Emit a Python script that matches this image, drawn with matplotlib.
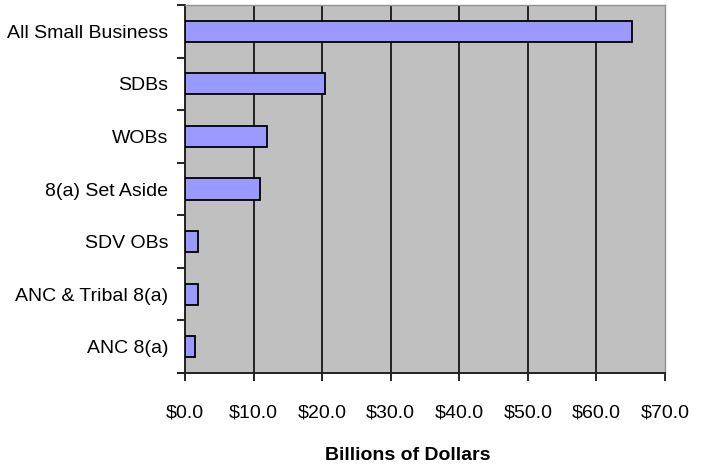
import matplotlib
matplotlib.use("Agg")
import matplotlib.pyplot as plt
from matplotlib import font_manager

categories = ["All Small Business", "SDBs", "WOBs", "8(a) Set Aside",
              "SDV OBs", "ANC & Tribal 8(a)", "ANC 8(a)"]
values = [65.2, 20.4, 11.9, 10.9, 1.9, 1.9, 1.4]
xticks = [0, 10, 20, 30, 40, 50, 60, 70]
xtick_labels = ["$%.1f" % v for v in xticks]

names = {f.name for f in font_manager.fontManager.ttflist}
family = "Liberation Sans Narrow" if "Liberation Sans Narrow" in names else "Liberation Sans"
plt.rcParams["font.family"] = [family, "DejaVu Sans"]

fig = plt.figure(figsize=(7.07, 4.67), dpi=100)
ax = fig.add_axes([185 / 707, 1 - 373 / 467, 480 / 707, 368 / 467])
ax.set_facecolor("#C0C0C0")

y = list(range(len(categories)))[::-1]
ax.barh(y, values, height=0.4, color="#9999FF", edgecolor="black", linewidth=1.3, zorder=3)

ax.set_xlim(0, 70)
ax.set_ylim(-0.5, len(categories) - 0.5)
ax.set_xticks(xticks)
ax.set_xticklabels(xtick_labels, fontsize=14)
ax.set_yticks(y)
ax.set_yticklabels(categories, fontsize=14)
ax.tick_params(axis="y", length=0, pad=12)
ax.tick_params(axis="x", length=6, width=1.2, pad=17, direction="out")

# minor ticks between categories
ax.set_yticks([v + 0.5 for v in range(-1, len(categories))], minor=True)
ax.tick_params(axis="y", which="minor", length=6, width=1.2)

for xv in xticks[1:-1]:
    ax.axvline(xv, color="#222222", linewidth=1.4, zorder=1)

for side in ["top", "right"]:
    ax.spines[side].set_color("#909090")
    ax.spines[side].set_linewidth(1.0)
ax.spines["left"].set_color("#222222")
ax.spines["left"].set_linewidth(1.4)
ax.spines["bottom"].set_color("#222222")
ax.spines["bottom"].set_linewidth(1.4)
ax.spines["bottom"].set_bounds(-1.0, 70)
ax.spines["bottom"].set_clip_on(False)

ax.set_xlabel("Billions of Dollars", fontsize=14, fontweight="bold")
ax.xaxis.set_label_coords((408 - 185) / 480, -(455 - 373) / 368)
ax.xaxis.label.set_va("center")

fig.savefig("out.png", dpi=100)
